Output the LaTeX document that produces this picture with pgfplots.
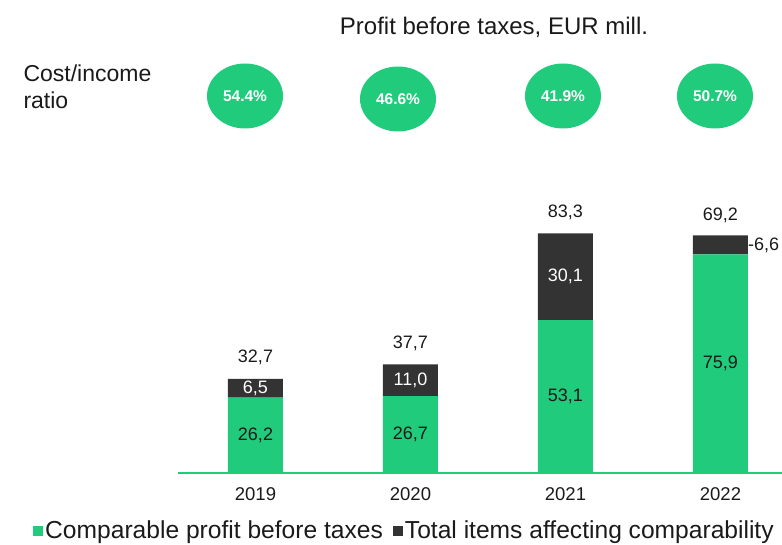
\documentclass[border=0pt]{standalone}
\usepackage{pgfplots}
\pgfplotsset{compat=1.18}
\usepackage{fontspec}
\setmainfont{Liberation Sans}
\definecolor{cgreen}{HTML}{20CB7C}
\definecolor{cdark}{HTML}{333333}
\definecolor{ctext}{HTML}{1A1A1A}
\tikzset{
  lab/.style={text=ctext, font=\fontsize{18}{20}\selectfont},
  wlab/.style={text=white, font=\fontsize{18}{20}\selectfont},
}
\begin{document}
\begin{tikzpicture}[x=1pt,y=1pt]
\useasboundingbox (0,0) rectangle (782,545);
% title and cost/income row
\node[text=ctext] at (494,518) {\fontsize{24}{28}\selectfont Profit before taxes, EUR mill.};
\node[text=ctext,anchor=west] at (20,472) {\fontsize{23}{27}\selectfont Cost/income};
\node[text=ctext,anchor=west] at (20,445) {\fontsize{23}{27}\selectfont ratio};
\foreach \cx/\cy/\lab in {245/449/54.4\%, 398/446/46.6\%, 563/449/41.9\%, 715/449/50.7\%}{
  \fill[cgreen] (\cx,\cy) ellipse (38 and 32.5);
  \node[text=white] at (\cx,\cy) {\fontsize{15.5}{17}\selectfont\bfseries \lab};
}
\begin{axis}[
  at={(178pt,72pt)}, anchor=south west, scale only axis,
  width=604pt, height=288pt,
  xmin=-0.5, xmax=3.397, ymin=0, ymax=100,
  ybar stacked, bar width=55pt,
  axis y line=none, axis x line*=bottom,
  x axis line style={cgreen, line width=1.2pt},
  xtick={0,1,2,3}, xticklabels={2019,2020,2021,2022},
  major tick length=0pt,
  xticklabel style={font=\fontsize{18.5}{20}\selectfont, text=ctext, yshift=-11pt},
  clip=false,
  legend columns=2,
  legend style={at={(rel axis cs:-0.24,-0.2)}, anchor=west, draw=none, fill=none,
    font=\fontsize{24.6}{27}\selectfont, text=ctext, inner sep=0pt,
    /tikz/every even column/.append style={column sep=8pt}},
  legend cell align=left,
]
\addplot[fill=cgreen, draw=none, legend image code/.code={\fill[cgreen] (0pt,-5pt) rectangle (10pt,5pt);}]
  coordinates {(0,26.2) (1,26.7) (2,53.1) (3,75.9)};
\addlegendentry{Comparable profit before taxes}
\addplot[fill=cdark, draw=none, legend image code/.code={\fill[cdark] (0pt,-5pt) rectangle (10pt,5pt);}]
  coordinates {(0,6.5) (1,11.0) (2,30.1) (3,6.6)};
\addlegendentry{Total items affecting comparability}
\coordinate (g0) at (axis cs:0,13.1);
\coordinate (g1) at (axis cs:1,13.35);
\coordinate (g2) at (axis cs:2,26.55);
\coordinate (g3) at (axis cs:3,37.95);
\coordinate (d0) at (axis cs:0,29.45);
\coordinate (d1) at (axis cs:1,32.2);
\coordinate (d2) at (axis cs:2,68.15);
\coordinate (d3) at (axis cs:3,79.2);
\coordinate (t0) at (axis cs:0,32.7);
\coordinate (t1) at (axis cs:1,37.7);
\coordinate (t2) at (axis cs:2,83.2);
\coordinate (t3) at (axis cs:3,82.5);
\end{axis}
\node[lab] at (g0) {26,2};
\node[lab] at (g1) {26,7};
\node[lab] at (g2) {53,1};
\node[lab] at (g3) {75,9};
\node[wlab] at (d0) {6,5};
\node[wlab] at (d1) {11,0};
\node[wlab] at (d2) {30,1};
\node[lab, yshift=21pt] at (t0) {32,7};
\node[lab, yshift=21pt] at (t1) {37,7};
\node[lab, yshift=21pt] at (t2) {83,3};
\node[lab, yshift=20pt] at (t3) {69,2};
\node[lab, anchor=west, xshift=27.5pt, inner sep=0pt] at (d3) {-6,6};
\end{tikzpicture}
\end{document}
